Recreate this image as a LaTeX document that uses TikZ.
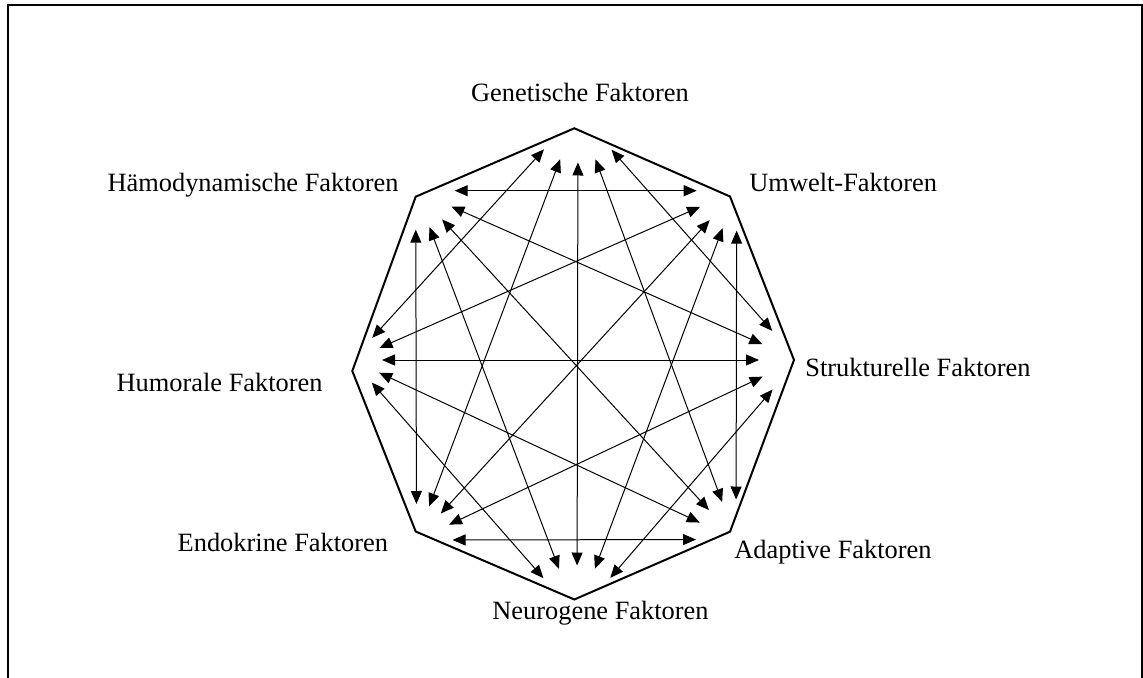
\documentclass[tikz,border=0pt]{standalone}
\usepackage{fontspec}
\setmainfont{Liberation Serif}
\usetikzlibrary{arrows.meta}

\begin{document}
\begin{tikzpicture}[
    x=0.5pt, y=-0.5pt,
    hub/.style={circle, inner sep=0pt, outer sep=0pt},
    lbl/.style={inner sep=0pt, font=\fontsize{13.2pt}{15pt}\selectfont},
    link/.style={line width=0.5pt, {Triangle[length=6.5pt,width=5.5pt]}-{Triangle[length=6.5pt,width=5.5pt]}},
    outline/.style={line width=1pt}
]
\useasboundingbox (0,0) rectangle (1143,678);

% Frame (open at the bottom)
\draw[outline] (7.5,700) -- (7.5,5.5) -- (1142,5.5) -- (1142,700);

% Octagon
\draw[outline] (574.3,128.3) -- (730,196.5) -- (794,360) -- (730,531.7)
  -- (574.3,599.5) -- (415.7,531.5) -- (352.3,371) -- (415.7,196.7) -- cycle;

% Hubs where the arrows meet
\node[hub, minimum size=50.5pt] (gen)  at (578,112)   {};
\node[hub, minimum size=40pt]   (umw)  at (736.7,190.7) {};
\node[hub, minimum size=39pt]   (str)  at (798,360)   {};
\node[hub, minimum size=40pt]   (ada)  at (736,539.5) {};
\node[hub, minimum size=51pt]   (neu)  at (577,616.5) {};
\node[hub, minimum size=36pt]   (endo) at (416.5,540) {};
\node[hub, minimum size=30pt]   (hum)  at (352,360)   {};
\node[hub, minimum size=39pt]   (haem) at (415.7,190.7) {};

% Labels
\node[lbl, anchor=base]      at (580,101.5) {Genetische Faktoren};
\node[lbl, anchor=base west] at (749,192)   {Umwelt-Faktoren};
\node[lbl, anchor=base west] at (805,376.5) {Strukturelle Faktoren};
\node[lbl, anchor=base west] at (734,558)   {Adaptive Faktoren};
\node[lbl, anchor=base]      at (600.5,619) {Neurogene Faktoren};
\node[lbl, anchor=base east] at (388.5,551.5) {Endokrine Faktoren};
\node[lbl, anchor=base east] at (323,391)   {Humorale Faktoren};
\node[lbl, anchor=base east] at (399,192)   {Hämodynamische Faktoren};

% Arrows
\foreach \a/\b in {gen/str, umw/ada, str/neu, ada/endo, neu/hum, endo/haem, hum/gen, haem/umw,
                   gen/ada, gen/endo, umw/neu, umw/hum, str/endo, str/haem, ada/hum, neu/haem,
                   gen/neu, umw/endo, str/hum, ada/haem}
  \draw[link] (\a) -- (\b);
\end{tikzpicture}
\end{document}
